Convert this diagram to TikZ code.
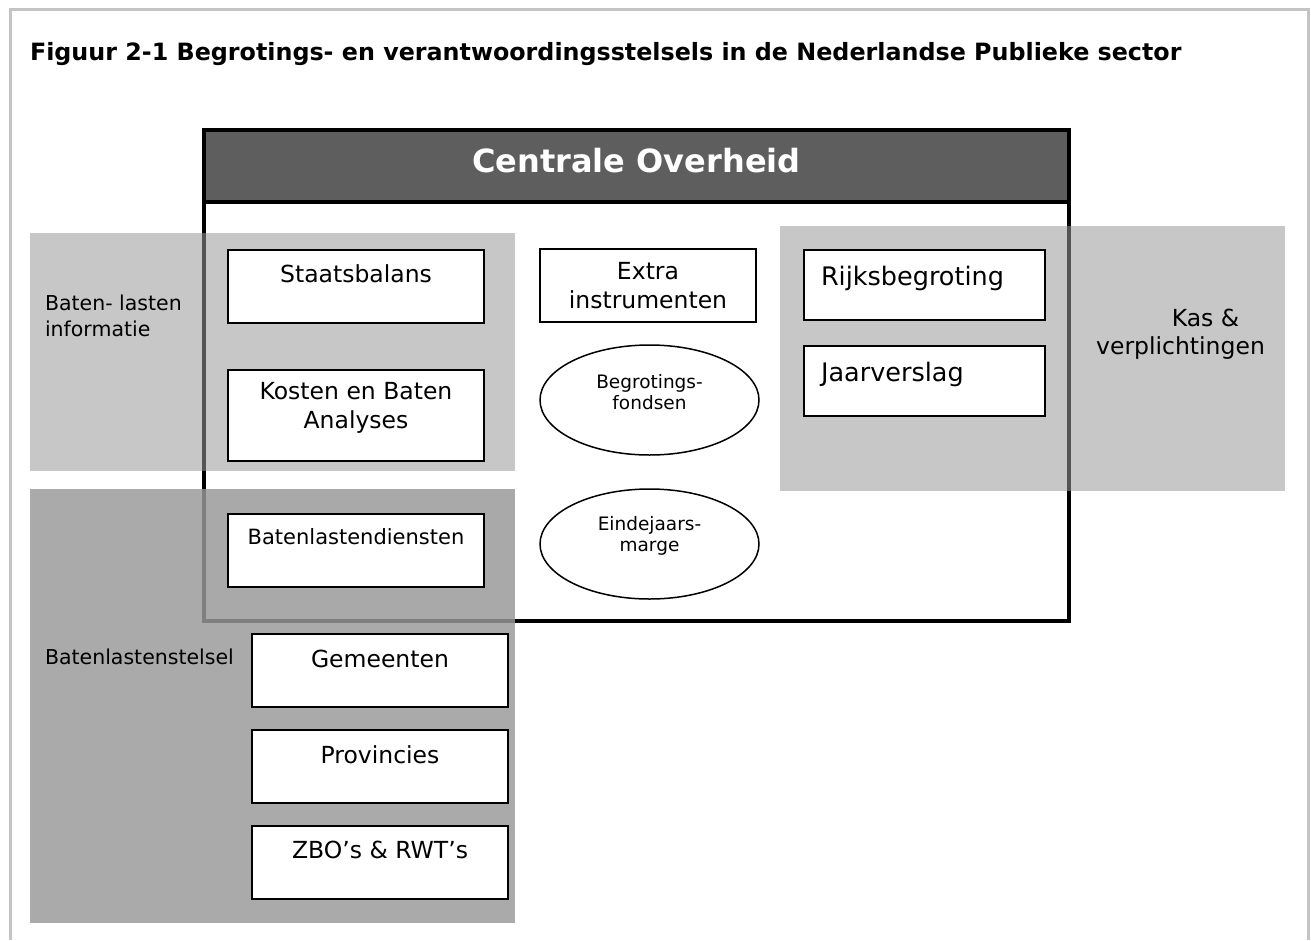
\documentclass[tikz,border=0pt]{standalone}
\usepackage{fontspec}
\setmainfont{DejaVu Sans}
\usetikzlibrary{shapes.geometric}

\definecolor{headgray}{HTML}{5E5E5E}
\definecolor{zonegray}{HTML}{999999}
\definecolor{framegray}{HTML}{C4C4C4}

\newcommand{\titlefont}[0]{\fontsize{23.8}{28}\selectfont\bfseries}
\newcommand{\headfont}[0]{\fontsize{32}{38}\selectfont\bfseries}
\newcommand{\boxfont}[0]{\fontsize{23.5}{28.4}\selectfont}
\newcommand{\bigboxfont}[0]{\fontsize{25.5}{30}\selectfont}
\newcommand{\smallfont}[0]{\fontsize{18.5}{21}\selectfont}
\newcommand{\labelfont}[0]{\fontsize{20.5}{26}\selectfont}

\tikzstyle{cell}=[
  align=center,
  inner sep=0pt,
  outer sep=0pt,
]
\tikzstyle{zone}=[
  cell,
  rectangle,
  fill=zonegray,
  anchor=north west,
]
\tikzstyle{lightzone}=[
  zone,
  fill opacity=0.55,
]
\tikzstyle{darkzone}=[
  zone,
  fill opacity=0.835,
]
\tikzstyle{box}=[
  cell,
  rectangle,
  draw=black,
  line width=2pt,
  fill=white,
  anchor=north west,
  font=\boxfont,
  minimum width=256pt,
]
\tikzstyle{sidebox}=[
  box,
  align=left,
  font=\bigboxfont,
  minimum width=241pt,
  text width=207pt,
  inner xsep=17pt,
  text height=35pt,
  text depth=35pt,
]
\tikzstyle{fund}=[
  cell,
  ellipse,
  draw=black,
  line width=1.5pt,
  fill=white,
  minimum width=219pt,
  minimum height=110pt,
]
\tikzstyle{fundtext}=[
  cell,
  font=\smallfont,
]
\tikzstyle{zonelabel}=[
  cell,
  align=left,
  font=\labelfont,
]
\tikzstyle{co}=[
  cell,
  rectangle,
  draw=black,
  line width=4pt,
  anchor=north west,
  minimum width=865pt,
]

\begin{document}
\begin{tikzpicture}[x=1pt,y=-1pt]
  \useasboundingbox (0,0) rectangle (1311,940);
  \draw[framegray, line width=3pt] (10,940) -- (10,9) -- (1308.5,9) -- (1308.5,940);

  \node[cell, anchor=base west, font=\titlefont] (title) at (30,60)
    {Figuur 2-1 Begrotings- en verantwoordingsstelsels in de Nederlandse Publieke sector};

  % centrale overheid
  \node[co, fill=headgray, text=white, font=\headfont, text height=42pt, text depth=30pt] (cohead) at (204,130) {Centrale Overheid};
  \node[co, fill=white, minimum height=419pt] (cobody) at (cohead.south west) {};

  % grey areas
  \node[lightzone, minimum width=485pt, minimum height=238pt] (infozone) at (30,233) {};
  \node[darkzone, minimum width=485pt, minimum height=434pt] (stelselzone) at (30,489) {};
  \node[lightzone, minimum width=505pt, minimum height=265pt] (kaszone) at (780,226) {};

  \node[zonelabel, anchor=north west] (infolabel) at (45,295) {Baten- lasten\\informatie};
  \node[zonelabel, anchor=base west] (stelsellabel) at (45,664) {Batenlastenstelsel};
  \node[cell, anchor=north, font=\boxfont] (kaslabel) at (1180.5,309) {\hspace*{50pt}Kas \&\\verplichtingen};

  % left column
  \node[box, text height=32.3pt, text depth=40.7pt] (staatsbalans) at (228,250) {Staatsbalans};
  \node[box, minimum height=91pt] (kba) at ([yshift=-120pt] staatsbalans.north west) {Kosten en Baten\\Analyses\\[-8pt]};
  \node[box, font=\fontsize{21}{25}\selectfont, text height=30pt, text depth=43pt] (diensten) at ([yshift=-264pt] staatsbalans.north west) {Batenlastendiensten};

  % middle column
  \node[box, minimum width=216pt, minimum height=73pt] (extra) at (540,249) {Extra\\instrumenten};
  \node[fund] (fondsen) at (649.5,400) {};
  \node[fundtext] (fondsentext) at ([yshift=7.5pt] fondsen.center) {Begrotings-\\fondsen};
  \node[fund] (marge) at (649.5,544) {};
  \node[fundtext] (margetext) at ([yshift=8pt] marge.center) {Eindejaars-\\marge};

  % right column
  \node[sidebox] (rijks) at (804,250) {Rijksbegroting};
  \node[sidebox] (jaar) at ([yshift=-96pt] rijks.north west) {Jaarverslag};

  % decentral
  \node[box, text height=33.7pt, text depth=39.3pt] (gemeenten) at (252,634) {Gemeenten};
  \node[box, text height=33.3pt, text depth=39.7pt] (provincies) at ([yshift=-96pt] gemeenten.north west) {Provincies};
  \node[box, text height=32.7pt, text depth=40.3pt] (zbo) at ([yshift=-96pt] provincies.north west) {ZBO's \& RWT's};
\end{tikzpicture}
\end{document}
